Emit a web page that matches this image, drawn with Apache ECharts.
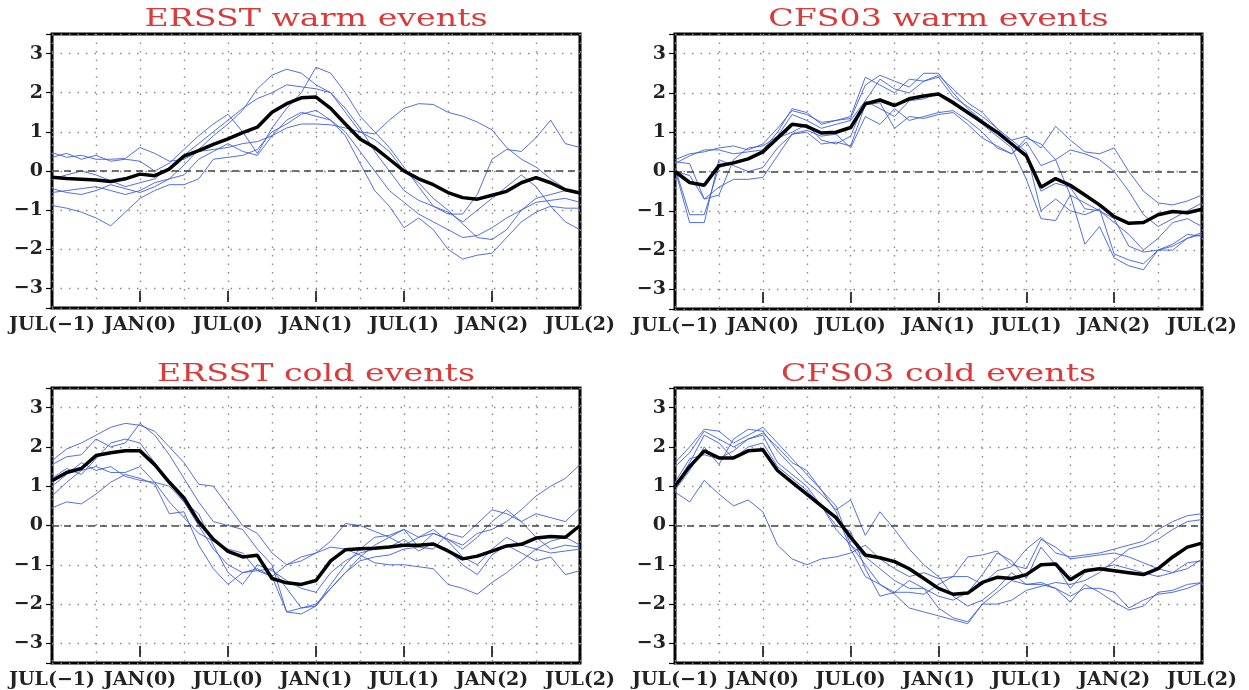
<!DOCTYPE html>
<html><head><meta charset="utf-8">
<script src="https://cdn.jsdelivr.net/npm/echarts@6/dist/echarts.min.js"></script>
<style>html,body{margin:0;padding:0;background:#fff}#c{width:1249px;height:690px}</style>
</head><body><div id="c"></div>
<script>
// ---- tick labels / titles ----
const xTickLabels = ['JUL(−1)','JAN(0)','JUL(0)','JAN(1)','JUL(1)','JAN(2)','JUL(2)'];
const yTickLabels = ['−3','−2','−1','0','1','2','3'];
const panelTitles = ['ERSST warm events','CFS03 warm events','ERSST cold events','CFS03 cold events'];

// ---- ERSST warm events (months JUL(-1) .. JUL(2), 37 values) ----
const ersstWarmMean = [-0.16,-0.19,-0.21,-0.23,-0.27,-0.2,-0.08,-0.12,0.05,0.38,0.52,0.68,0.82,0.98,1.12,1.5,1.72,1.87,1.89,1.6,1.2,0.82,0.6,0.3,0.0,-0.2,-0.35,-0.55,-0.68,-0.72,-0.62,-0.52,-0.3,-0.17,-0.3,-0.48,-0.56];
const ersstWarm1 = [0.47,0.35,0.4,0.3,0.3,0.32,0.6,0.45,0.25,0.3,0.5,0.55,0.6,0.7,0.75,0.9,1.1,1.2,1.2,1.18,1.1,1.0,0.95,1.3,1.6,1.72,1.7,1.5,1.4,1.25,1.05,0.6,0.3,0.1,-0.2,-0.45,-0.6];
const ersstWarm2 = [0.35,0.45,0.3,0.4,0.25,0.3,0.25,0.0,0.2,0.55,0.9,1.2,1.45,1.0,0.45,1.1,1.6,2.0,2.65,2.5,2.0,1.4,1.0,0.6,0.1,-0.4,-0.9,-1.1,-1.1,-0.6,0.3,0.55,0.5,0.85,1.3,0.7,0.6];
const ersstWarm3 = [-0.2,-0.1,0.0,-0.1,-0.25,-0.4,-0.3,-0.2,0.1,0.4,0.7,1.0,1.3,1.6,1.85,2.0,2.2,2.15,2.1,2.0,1.5,1.0,0.8,0.5,0.0,-0.3,-0.7,-1.0,-1.35,-1.7,-1.75,-1.5,-1.0,-0.7,-0.6,-0.5,-0.55];
const ersstWarm4 = [-0.45,-0.55,-0.6,-0.5,-0.35,-0.45,-0.55,-0.4,-0.2,0.15,0.55,0.9,1.2,1.55,2.1,2.45,2.6,2.5,2.2,2.0,1.6,1.1,0.5,0.0,-0.5,-0.75,-0.9,-1.05,-1.3,-1.0,-0.7,-0.4,-0.1,-0.4,-0.9,-1.3,-1.5];
const ersstWarm5 = [-0.55,-0.5,-0.45,-0.4,-0.5,-0.6,-0.5,-0.3,-0.2,-0.1,0.3,0.5,0.7,0.5,0.4,0.9,1.3,1.5,1.4,1.3,1.0,0.5,0.0,-0.5,-0.8,-1.1,-1.3,-1.5,-1.7,-1.65,-1.45,-1.2,-1.0,-0.8,-0.75,-0.7,-0.8];
const ersstWarm6 = [-0.88,-0.95,-1.05,-1.2,-1.4,-1.05,-0.7,-0.5,-0.35,-0.35,-0.2,0.3,0.35,0.4,0.55,1.0,1.2,1.45,1.55,1.3,0.9,0.2,-0.5,-0.9,-1.45,-1.2,-1.5,-2.0,-2.25,-2.15,-2.1,-1.7,-1.3,-1.05,-0.9,-0.95,-0.95];

// ---- CFS03 warm events ----
const cfsWarmMean = [0,-0.28,-0.35,0.15,0.22,0.32,0.5,0.85,1.2,1.15,0.98,1.0,1.12,1.72,1.82,1.68,1.85,1.92,1.97,1.75,1.5,1.25,1.0,0.7,0.4,-0.4,-0.18,-0.35,-0.6,-0.85,-1.15,-1.32,-1.3,-1.1,-1.02,-1.05,-0.96];
const cfsWarm1 = [0.3,0.45,0.5,0.6,0.65,0.55,0.7,1.1,1.55,1.45,1.25,1.3,1.35,2.2,2.45,2.3,2.15,2.5,2.5,2.0,1.6,1.3,1.0,0.8,0.9,0.6,1.15,0.8,0.5,0.45,0.6,0.0,-0.5,-0.8,-0.85,-0.75,-0.6];
const cfsWarm2 = [0.25,0.2,-0.7,-0.6,0.3,0.6,0.65,0.9,1.45,1.3,1.1,1.2,1.3,1.8,2.35,2.1,2.0,2.3,2.4,1.9,1.65,1.4,1.1,0.7,0.45,-0.5,-0.3,-0.4,-0.95,-1.0,-1.3,-1.6,-2.0,-1.7,-1.3,-1.2,-1.4];
const cfsWarm3 = [0.1,-1.1,-1.1,0.1,0.2,0.3,0.5,0.85,1.0,1.2,0.8,0.7,0.9,1.8,1.6,1.4,1.8,1.85,2.0,1.8,1.5,1.2,0.9,0.6,-0.2,-1.2,-1.25,-0.6,-0.8,-1.0,-1.2,-1.9,-2.05,-2.0,-2.0,-1.7,-1.6];
const cfsWarm4 = [0.05,-1.3,-1.3,0.3,0.15,0.0,0.1,0.6,0.95,1.0,0.7,0.75,0.65,1.7,1.75,1.1,1.4,1.35,1.45,1.5,1.2,0.85,0.65,0.45,0.85,0.7,0.3,-0.6,-1.85,-1.4,-2.2,-2.4,-2.5,-2.0,-1.9,-1.7,-1.55];
const cfsWarm5 = [0.0,-0.1,-0.7,-0.4,-0.2,-0.2,-0.15,0.4,0.95,1.05,0.9,0.95,0.6,1.4,1.2,1.6,1.3,1.4,1.5,1.55,1.3,1.0,0.6,0.45,0.75,0.15,0.3,0.55,0.45,0.3,0.0,-0.5,-1.1,-1.4,-1.2,-1.0,-0.8];
const cfsWarm6 = [0.2,0.4,0.55,0.55,0.45,0.5,0.55,1.0,1.6,1.5,1.2,1.3,1.4,2.4,2.2,2.0,2.35,2.3,2.45,2.1,1.75,1.5,1.1,0.8,0.5,-1.0,-0.7,-1.0,-1.1,-0.95,-2.1,-2.25,-2.35,-2.0,-1.85,-1.6,-1.65];

// ---- ERSST cold events ----
const ersstColdMean = [1.14,1.35,1.45,1.78,1.85,1.9,1.9,1.55,1.1,0.7,0.1,-0.35,-0.66,-0.8,-0.76,-1.35,-1.46,-1.5,-1.4,-0.9,-0.62,-0.59,-0.58,-0.55,-0.5,-0.5,-0.47,-0.65,-0.85,-0.78,-0.65,-0.52,-0.48,-0.32,-0.28,-0.3,0.0];
const ersstCold1 = [1.65,1.95,2.1,2.3,2.5,2.6,2.55,2.4,2.0,1.6,1.05,1.0,0.5,0.0,-0.2,-0.7,-1.0,-0.9,-0.7,-0.4,0.05,0.0,-0.15,-0.3,-0.5,-0.3,-0.2,-0.35,-0.6,-0.3,0.1,0.4,0.1,-0.3,-0.6,-0.5,-0.55];
const ersstCold2 = [1.55,1.75,1.8,2.2,2.0,2.1,2.6,2.3,1.8,1.2,0.6,0.1,0.0,-0.1,-0.6,-1.0,-2.2,-2.25,-2.05,-1.5,-1.0,-0.6,-0.3,-0.25,-0.1,-0.3,-0.1,-0.4,-0.8,-1.0,-0.6,-0.3,-0.5,-0.6,-0.4,-0.3,-0.5];
const ersstCold3 = [1.2,1.45,1.3,1.7,2.1,2.2,2.1,1.6,1.1,0.6,0.3,-0.5,-1.2,-1.5,-1.0,-1.15,-1.4,-1.6,-1.7,-1.2,-0.9,-0.7,-0.6,-0.55,-0.35,-0.65,-0.45,-0.6,-1.0,-1.25,-0.75,-0.5,-0.7,-0.9,-0.8,-1.25,-1.15];
const ersstCold4 = [0.75,1.1,1.4,1.5,1.35,1.35,1.5,1.1,1.0,0.6,0.0,-0.6,-1.0,-1.2,-1.15,-1.1,-1.6,-2.1,-2.0,-1.6,-1.2,-0.9,-0.8,-0.75,-0.6,-0.55,-0.6,-0.2,-0.3,0.05,0.4,0.3,0.1,0.3,0.2,0.1,0.45];
const ersstCold5 = [0.45,0.6,0.55,0.8,1.1,1.3,1.2,1.05,0.3,0.35,-0.5,-1.1,-1.5,-1.2,-1.1,-1.3,-1.0,-0.8,-0.7,-0.55,-0.6,-0.75,-0.95,-1.0,-1.0,-1.05,-1.1,-1.5,-1.6,-1.75,-1.45,-1.2,-0.9,-0.6,-0.7,-0.65,-0.6];
const ersstCold6 = [1.0,1.3,1.6,1.4,1.5,1.25,1.15,1.1,0.6,0.2,-0.2,-0.4,-0.6,-0.7,-1.15,-1.3,-2.2,-2.1,-2.05,-1.6,-1.2,-0.8,-0.5,-0.3,-0.1,-0.55,-0.2,-0.35,-0.5,-0.2,-0.1,0.1,0.4,0.75,1.0,1.2,1.55];

// ---- CFS03 cold events ----
const cfsColdMean = [1.0,1.5,1.9,1.72,1.72,1.9,1.93,1.4,1.1,0.8,0.5,0.2,-0.3,-0.75,-0.82,-0.92,-1.1,-1.35,-1.6,-1.75,-1.72,-1.45,-1.32,-1.35,-1.25,-1.0,-0.98,-1.38,-1.15,-1.1,-1.15,-1.2,-1.25,-1.1,-0.8,-0.55,-0.45];
const cfsCold1 = [1.6,2.0,2.45,2.4,2.1,2.3,2.5,2.1,1.7,1.3,0.9,0.5,-0.5,-1.0,-1.5,-1.7,-1.7,-1.75,-1.5,-1.3,-1.3,-1.5,-1.15,-1.05,-0.6,-0.3,-0.7,-0.8,-0.75,-0.7,-0.6,-0.5,-0.4,-0.1,0.1,0.25,0.3];
const cfsCold2 = [1.5,1.85,2.4,2.2,2.0,2.2,2.35,2.0,1.6,1.4,0.9,0.35,-0.6,-1.3,-1.5,-1.75,-2.1,-2.2,-2.3,-2.4,-2.5,-2.0,-2.0,-1.9,-1.65,-1.55,-1.45,-1.5,-1.4,-1.2,-0.9,-0.6,-0.5,-0.35,-0.1,0.1,0.15];
const cfsCold3 = [0.9,1.4,2.0,1.55,2.2,2.45,2.4,1.9,1.5,1.1,0.8,0.4,0.65,-0.25,0.35,-0.1,-0.6,-1.0,-1.3,-1.8,-2.05,-1.9,-1.6,-1.2,-1.5,-1.45,-1.6,-1.95,-1.5,-1.7,-1.95,-2.15,-2.05,-1.7,-1.65,-1.5,-1.45];
const cfsCold4 = [0.85,0.6,1.15,0.8,0.5,0.65,0.35,-0.5,-0.85,-1.0,-0.85,-0.8,-0.7,-0.5,-0.85,-1.1,-1.3,-1.2,-1.35,-1.3,-0.8,-0.75,-0.65,-1.0,-1.1,-0.35,-0.55,-0.85,-0.8,-0.75,-0.7,-0.8,-0.95,-1.1,-1.2,-0.95,-0.9];
const cfsCold5 = [1.1,1.7,1.8,1.7,1.9,2.2,2.3,1.6,1.3,1.0,0.5,0.0,-0.15,-1.1,-1.8,-1.7,-1.4,-1.6,-2.1,-2.35,-2.45,-2.0,-1.7,-1.4,-1.5,-1.5,-1.6,-1.8,-1.6,-1.6,-1.7,-2.1,-1.9,-1.75,-1.7,-1.6,-1.45];
const cfsCold6 = [1.0,1.6,2.3,2.1,1.7,2.0,2.1,1.5,1.2,0.9,0.5,-0.1,-0.5,-0.8,-1.1,-1.4,-1.6,-1.6,-1.8,-1.9,-1.7,-1.25,-0.7,-0.9,-1.35,-0.55,-1.0,-1.6,-1.2,-1.1,-1.0,-1.1,-1.2,-1.3,-1.2,-1.1,-0.85];

// ---- assemble ----
const panels = [
  {members:[ersstWarm1,ersstWarm2,ersstWarm3,ersstWarm4,ersstWarm5,ersstWarm6], mean:ersstWarmMean},
  {members:[cfsWarm1,cfsWarm2,cfsWarm3,cfsWarm4,cfsWarm5,cfsWarm6], mean:cfsWarmMean},
  {members:[ersstCold1,ersstCold2,ersstCold3,ersstCold4,ersstCold5,ersstCold6], mean:ersstColdMean},
  {members:[cfsCold1,cfsCold2,cfsCold3,cfsCold4,cfsCold5,cfsCold6], mean:cfsColdMean}
];
const layout = [
  {left:52, top:34, width:528, height:274},
  {left:675, top:34, width:527, height:275},
  {left:52, top:388, width:528, height:275},
  {left:675, top:388, width:527, height:275}
];
const labelFont = {fontFamily:'DejaVu Serif', fontWeight:'bold', fontSize:19, color:'#222'};
const toPairs = arr => arr.map((v,i)=>[i,v]);

const grid=[], xAxis=[], yAxis=[], series=[], graphic=[];
layout.forEach((g,i)=>{
  grid.push(Object.assign({show:true, borderColor:'#000', borderWidth:3, containLabel:false}, g));
  xAxis.push({gridIndex:i, type:'value', min:0, max:36, interval:3,
    axisLine:{show:false}, axisTick:{show:false},
    axisLabel:Object.assign({margin:8, showMinLabel:true, showMaxLabel:true,
      formatter:v=> (v%6===0 ? xTickLabels[v/6] : '')}, labelFont),
    splitLine:{show:true, lineStyle:{color:'#8a8a8a', type:[1.5,7], width:1.4}}});
  xAxis.push({gridIndex:i, type:'value', min:0, max:36, interval:6, position:'bottom', offset:-6,
    axisLine:{show:false}, axisLabel:{show:false}, splitLine:{show:false},
    axisTick:{show:true, inside:true, length:11, lineStyle:{color:'#000', width:1.5}}});
  yAxis.push({gridIndex:i, type:'value', min:-3.5, max:3.5, splitNumber:7,
    axisLine:{show:false},
    axisTick:{show:true, length:6, lineStyle:{color:'#000', width:1.2}},
    axisLabel:Object.assign({margin:9, formatter:v=> (Number.isInteger(v) ? yTickLabels[v+3] : '')}, labelFont),
    splitLine:{show:true, lineStyle:{color:'#8a8a8a', type:[1.5,7], width:1.4}}});
  panels[i].members.forEach(m=>{
    series.push({type:'line', xAxisIndex:2*i, yAxisIndex:i, data:toPairs(m), symbol:'none',
      lineStyle:{color:'#3f5fd8', width:1, opacity:0.9}, z:3, silent:true});
  });
  series.push({type:'line', xAxisIndex:2*i, yAxisIndex:i, data:toPairs(panels[i].mean), symbol:'none',
    lineStyle:{color:'#000', width:3.5}, z:5, silent:true,
    markLine:{silent:true, symbol:['none','none'], label:{show:false},
      lineStyle:{color:'#444', type:[7,5], width:1.5}, data:[{yAxis:0}]}});
  graphic.push({type:'text', x:g.left+g.width/2, y:(i<2?20:375), scaleX:1.385,
    style:{text:panelTitles[i], fill:'#d93a3a', fontFamily:'DejaVu Serif', fontSize:24,
      align:'center', verticalAlign:'middle'}});
});

const chart = echarts.init(document.getElementById('c'), null, {renderer:'canvas'});
chart.setOption({animation:false, backgroundColor:'#fff', grid, xAxis, yAxis, series, graphic});
</script></body></html>
